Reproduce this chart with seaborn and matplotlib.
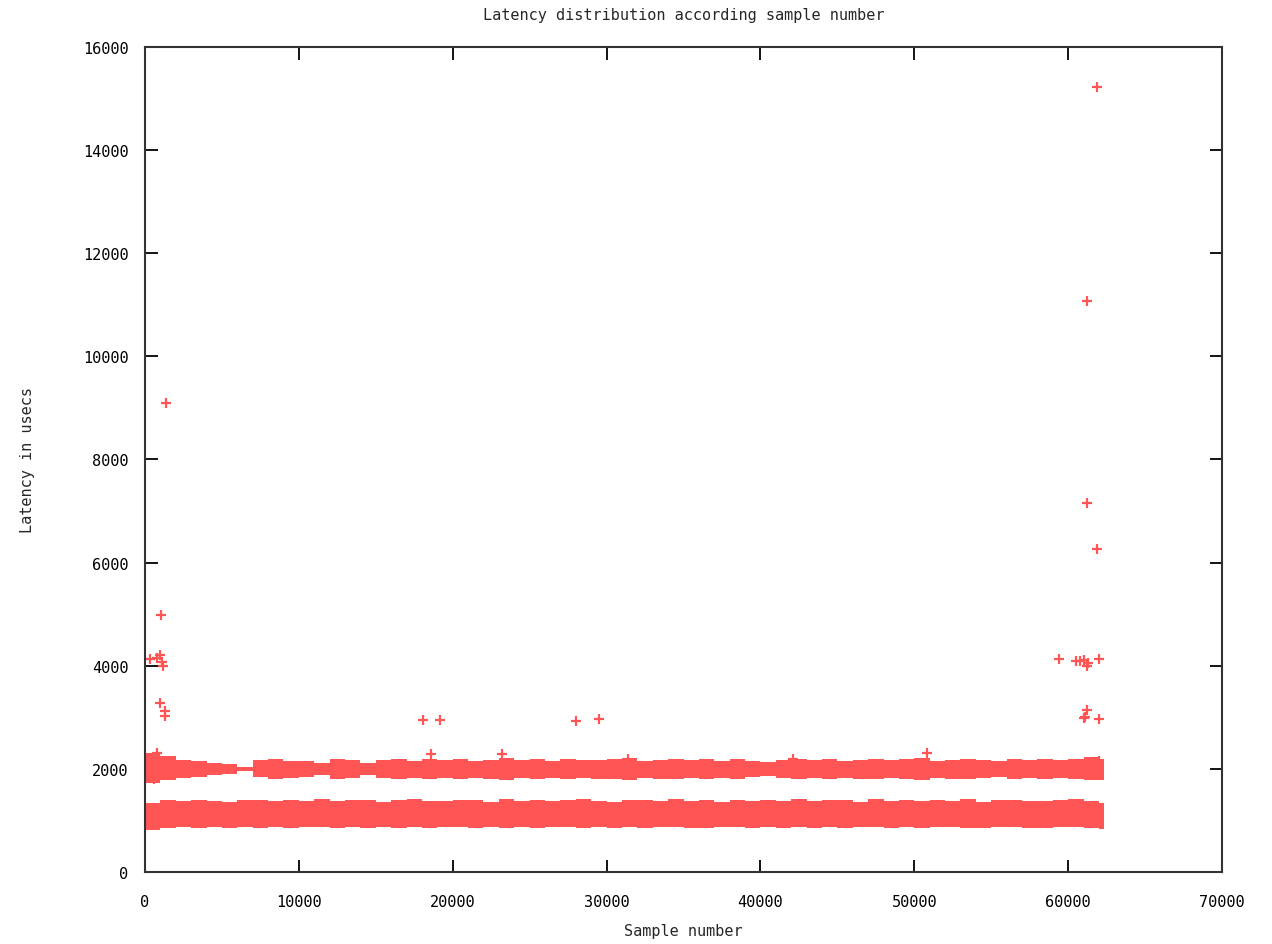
import numpy as np
import pandas as pd
import matplotlib
matplotlib.use("Agg")
import matplotlib.pyplot as plt
import seaborn as sns

# isolated samples (sample number, latency in usecs)
out_x = [300, 800, 1000, 1100, 1200, 1360, 1040, 1000, 1300, 1300,
         18050, 19200, 18600, 23200, 28000, 29500, 31400, 42100, 50800,
         59400, 60500, 60800, 61000, 61200, 61300, 62000,
         61000, 61200, 61100, 62000,
         61200, 61900, 61200, 61900,
         800, 600, 900, 62000, 61800]
out_y = [4130, 4150, 4200, 4080, 4000, 9100, 4980, 3270, 3120, 3030,
         2950, 2950, 2290, 2280, 2920, 2960, 2200, 2200, 2300,
         4130, 4100, 4100, 4120, 4000, 4050, 4130,
         2980, 3150, 3000, 2970,
         11080, 15230, 7150, 6260,
         2300, 1800, 2220, 2150, 2100]

# envelope of the dense point clouds, read every 1000 samples
band_x = [0, 1000, 2000, 3000, 4000, 5000, 6000, 7000, 8000, 9000,
          10000, 11000, 12000, 13000, 14000, 15000, 16000, 17000, 18000, 19000,
          20000, 21000, 22000, 23000, 24000, 25000, 26000, 27000, 28000, 29000,
          30000, 31000, 32000, 33000, 34000, 35000, 36000, 37000, 38000, 39000,
          40000, 41000, 42000, 43000, 44000, 45000, 46000, 47000, 48000, 49000,
          50000, 51000, 52000, 53000, 54000, 55000, 56000, 57000, 58000, 59000,
          60000, 61000, 62000, 62300]
# band around 1000 usecs
low_top = [1330, 1390, 1370, 1400, 1380, 1360, 1400, 1390, 1370, 1400,
           1380, 1410, 1370, 1390, 1400, 1360, 1390, 1410, 1380, 1370,
           1400, 1390, 1360, 1410, 1380, 1400, 1370, 1390, 1410, 1380,
           1360, 1400, 1390, 1370, 1410, 1380, 1400, 1360, 1390, 1370,
           1400, 1380, 1410, 1370, 1390, 1400, 1360, 1410, 1380, 1390,
           1370, 1400, 1380, 1410, 1360, 1390, 1400, 1370, 1380, 1400,
           1410, 1380, 1330, 1330]
low_bot = [820, 860, 870, 850, 880, 860, 870, 850, 880, 860,
           870, 880, 850, 870, 860, 880, 850, 870, 860, 880,
           870, 850, 880, 860, 870, 850, 880, 870, 860, 880,
           850, 870, 860, 880, 870, 850, 860, 880, 870, 850,
           880, 860, 870, 850, 880, 860, 870, 880, 850, 870,
           860, 880, 870, 850, 860, 880, 870, 860, 850, 880,
           870, 860, 830, 830]
# band around 2000 usecs
up_top = [2300, 2250, 2180, 2150, 2120, 2090, 2030, 2170, 2190, 2150,
          2160, 2120, 2190, 2170, 2120, 2180, 2200, 2160, 2190, 2170,
          2200, 2160, 2180, 2210, 2170, 2190, 2160, 2200, 2180, 2170,
          2190, 2210, 2160, 2180, 2200, 2170, 2190, 2160, 2200, 2150,
          2130, 2180, 2200, 2170, 2190, 2160, 2180, 2200, 2170, 2190,
          2210, 2160, 2180, 2200, 2170, 2150, 2190, 2180, 2200, 2170,
          2190, 2230, 2200, 2200]
up_bot = [1720, 1780, 1830, 1850, 1880, 1900, 1960, 1840, 1810, 1830,
          1850, 1880, 1810, 1830, 1880, 1820, 1800, 1830, 1810, 1820,
          1800, 1830, 1810, 1790, 1820, 1800, 1830, 1810, 1820, 1800,
          1810, 1790, 1830, 1810, 1800, 1820, 1810, 1830, 1800, 1850,
          1870, 1820, 1800, 1830, 1810, 1820, 1800, 1810, 1830, 1800,
          1790, 1820, 1810, 1800, 1830, 1850, 1810, 1820, 1800, 1830,
          1810, 1780, 1780, 1780]

red = "#ff5555"

sns.set_style("ticks")
plt.rcParams["font.family"] = ["DejaVu Sans Mono"]

fig = plt.figure(figsize=(12.72, 9.45), dpi=100)
ax = fig.add_axes([0.114, 0.0762, 0.8467, 0.873])

ax.fill_between(band_x, low_bot, low_top, step="post", color=red, lw=0)
ax.fill_between(band_x, up_bot, up_top, step="post", color=red, lw=0)

df = pd.DataFrame({"sample": out_x, "latency": out_y})
sns.scatterplot(data=df, x="sample", y="latency", marker="+", s=55,
                color=red, linewidth=1.6, ax=ax, clip_on=False)

ax.set_xlim(0, 70000)
ax.set_ylim(0, 16000)
ax.set_xticks(range(0, 70001, 10000))
ax.set_yticks(range(0, 16001, 2000))
ax.tick_params(direction="in", length=9, width=1.3, top=True, right=True,
               labelsize=11, pad=12, colors="black")
ax.tick_params(axis="x", pad=16)
for sp in ax.spines.values():
    sp.set_visible(True)
    sp.set_linewidth(1.5)
    sp.set_color("#333333")

ax.set_title("Latency distribution according sample number", fontsize=11, pad=20)
ax.set_xlabel("Sample number", fontsize=11, labelpad=10)
ax.set_ylabel("Latency in usecs", fontsize=11, labelpad=34)

fig.savefig("out.png", dpi=100)
